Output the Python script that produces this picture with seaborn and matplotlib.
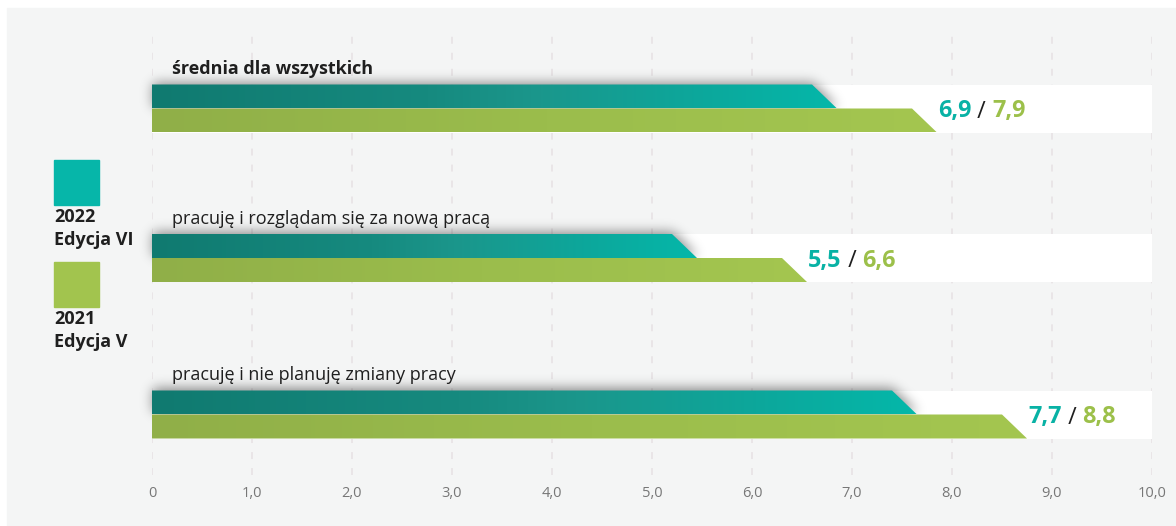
import numpy as np
import pandas as pd
import matplotlib
matplotlib.use("Agg")
import matplotlib.pyplot as plt
from matplotlib.patches import Polygon, Rectangle
from matplotlib.colors import LinearSegmentedColormap
import seaborn as sns

# ---- data -------------------------------------------------------------
categories = [
    "średnia dla wszystkich",
    "pracuję i rozglądam się za nową pracą",
    "pracuję i nie planuję zmiany pracy",
]
editions = ["2022\nEdycja VI", "2021\nEdycja V"]
scores_2022 = [6.9, 5.5, 7.7]
scores_2021 = [7.9, 6.6, 8.8]
tick_values = [0, 1, 2, 3, 4, 5, 6, 7, 8, 9, 10]
tick_labels = ["0", "1,0", "2,0", "3,0", "4,0", "5,0", "6,0", "7,0", "8,0", "9,0", "10,0"]

df = pd.DataFrame({
    "kategoria": categories * 2,
    "edycja": [editions[0]] * len(categories) + [editions[1]] * len(categories),
    "wynik": scores_2022 + scores_2021,
})

# ---- style ------------------------------------------------------------
TEAL = "#06b6a9"
GREEN = "#a2c44e"
TEAL_TXT = "#08b2a5"
GREEN_TXT = "#9cc04a"
DARK = "#1f1f1f"
PANEL = "#f4f5f5"

teal_cmap = LinearSegmentedColormap.from_list(
    "teal", [(0.0, "#107a70"), (0.4, "#168a7f"), (0.55, "#1b968b"),
             (0.8, "#0ca89c"), (1.0, "#04b8aa")])
green_cmap = LinearSegmentedColormap.from_list(
    "green", [(0.0, "#90af48"), (0.5, "#9bbd4c"), (1.0, "#a4c650")])

sns.set_theme(style="white")
plt.rcParams["font.family"] = ["Open Sans", "DejaVu Sans"]
plt.rcParams["lines.scale_dashes"] = False

W, H = 1176, 526
fig = plt.figure(figsize=(W / 100, H / 100), dpi=100)
fig.patch.set_facecolor("white")
fig.add_artist(Rectangle((7 / W, 0), 1 - 7 / W, 1 - 8 / H,
                         transform=fig.transFigure, color=PANEL, zorder=-10))

ax = fig.add_axes([152 / W, 1 - 475 / H, 1000 / W, 442 / H])
ax.set_facecolor("none")

ROW_PX = 153.0           # pixels between category centres
BAR_H = 24 / ROW_PX      # height of a single bar
Y_TOP = -(108.5 - 33) / ROW_PX
Y_BOTTOM = 2 + (475 - 414.5) / ROW_PX
ROW_SHIFT = [0.0, -3.5 / ROW_PX, 0.0]   # small nudge of the middle row
SLANT_TOP = 0.30
SLANT_BOT = 0.05

sns.barplot(data=df, y="kategoria", x="wynik", hue="edycja",
            order=categories, hue_order=editions, orient="h",
            width=2 * BAR_H, palette=[TEAL, GREEN], legend=False,
            ax=ax, zorder=3)

centres = np.arange(len(categories)) + np.array(ROW_SHIFT)

# white band behind each pair of bars
ax.barh(centres, tick_values[-1], height=2 * BAR_H, color="white",
        zorder=1, linewidth=0)

# replace plain rectangles with slanted gradient shapes
teal_shapes = []
for hue_idx, (container, cmap) in enumerate(zip(ax.containers[:2], [teal_cmap, green_cmap])):
    for row, bar in enumerate(container):
        x0 = bar.get_x()
        y0 = bar.get_y() + ROW_SHIFT[row]
        w, h = bar.get_width(), bar.get_height()
        bar.set_visible(False)
        pts = [(x0, y0), (w - SLANT_TOP, y0), (w - SLANT_BOT, y0 + h), (x0, y0 + h)]
        z = 4 if hue_idx == 0 else 3
        poly = Polygon(pts, closed=True, facecolor="none", edgecolor="none", zorder=z)
        ax.add_patch(poly)
        grad = np.linspace(0, 1, 256).reshape(1, -1)
        im = ax.imshow(grad, cmap=cmap, extent=(x0, w, y0 + h, y0),
                       aspect="auto", zorder=z, interpolation="bilinear")
        im.set_clip_path(poly)
        if hue_idx == 0:
            teal_shapes.append((y0, y0 + h, w - SLANT_TOP, w - SLANT_BOT))

# soft drop shadow under the 2022 bars
sx_min, sx_max = -0.3, 10.0
nx = int((sx_max - sx_min) * 100)
ny = int((Y_BOTTOM - Y_TOP) * ROW_PX)
X = np.linspace(sx_min, sx_max, nx)[None, :]
Y = np.linspace(Y_TOP, Y_BOTTOM, ny)[:, None]
mask = np.zeros((ny, nx))
for yt, yb, xt, xb in teal_shapes:
    frac = np.clip((Y - yt) / (yb - yt), 0, 1)
    inside = (X >= 0) & (Y >= yt) & (Y <= yb) & (X <= xt + (xb - xt) * frac)
    mask[inside] = 1.0
mask = np.roll(mask, (-2, 1), axis=(0, 1))
sig = 6.0
k = np.exp(-0.5 * (np.arange(-20, 21) / sig) ** 2)
k /= k.sum()
blur = np.apply_along_axis(lambda r: np.convolve(r, k, mode="same"), 1, mask)
blur = np.apply_along_axis(lambda c: np.convolve(c, k, mode="same"), 0, blur)
shadow = np.zeros((ny, nx, 4))
shadow[..., 3] = 0.45 * blur
ax.imshow(shadow, extent=(sx_min, sx_max, Y_BOTTOM, Y_TOP), origin="upper",
          aspect="auto", zorder=2, interpolation="bilinear", clip_on=False)

# category captions above the bars
for i, cat in enumerate(categories):
    ax.text(0.2, centres[i] - BAR_H - 15 / ROW_PX, cat, fontsize=13, color=DARK,
            fontweight="bold" if i == 0 else "normal", va="center", ha="left",
            zorder=5)

# value labels "2022 / 2021"
fmt = lambda v: f"{v:.1f}".replace(".", ",")
for i, (a, b) in enumerate(zip(scores_2022, scores_2021)):
    t1 = ax.text(b - 0.04, centres[i] + 3 / ROW_PX, fmt(a), color=TEAL_TXT,
                 fontsize=16.8, fontweight="bold", va="center", ha="left", zorder=5)
    t2 = ax.annotate(" / ", xy=(1, 0), xycoords=t1, va="bottom", ha="left",
                     fontsize=16.8, color=DARK, zorder=5)
    ax.annotate(fmt(b), xy=(1, 0), xycoords=t2, va="bottom", ha="left",
                fontsize=16.8, fontweight="bold", color=GREEN_TXT, zorder=5)

# axes cosmetics
ax.set_xlim(tick_values[0], tick_values[-1])
ax.set_ylim(Y_BOTTOM, Y_TOP)
ax.set_xticks(tick_values, tick_labels)
ax.set_yticks([])
ax.set_xlabel("")
ax.set_ylabel("")
ax.tick_params(axis="x", length=0, pad=8, labelsize=10.5, labelcolor="#777777")
for s in ax.spines.values():
    s.set_visible(False)
ax.set_axisbelow(True)
ax.grid(axis="x", color="#e6e1e3", linewidth=1.1, linestyle=(0, (5.0, 6.5)), zorder=0)

# legend on the left
for (label, color, top) in zip(editions, [TEAL, GREEN], [160, 262]):
    fig.add_artist(Rectangle((54 / W, 1 - (top + 45) / H), 45 / W, 45 / H,
                             transform=fig.transFigure, color=color, zorder=5))
    for j, line in enumerate(label.split("\n")):
        fig.text(54 / W, 1 - (top + 57 + 23 * j) / H, line, fontsize=13,
                 fontweight="bold", color=DARK, va="center", ha="left")

fig.savefig("out.png", dpi=100, facecolor="white")
